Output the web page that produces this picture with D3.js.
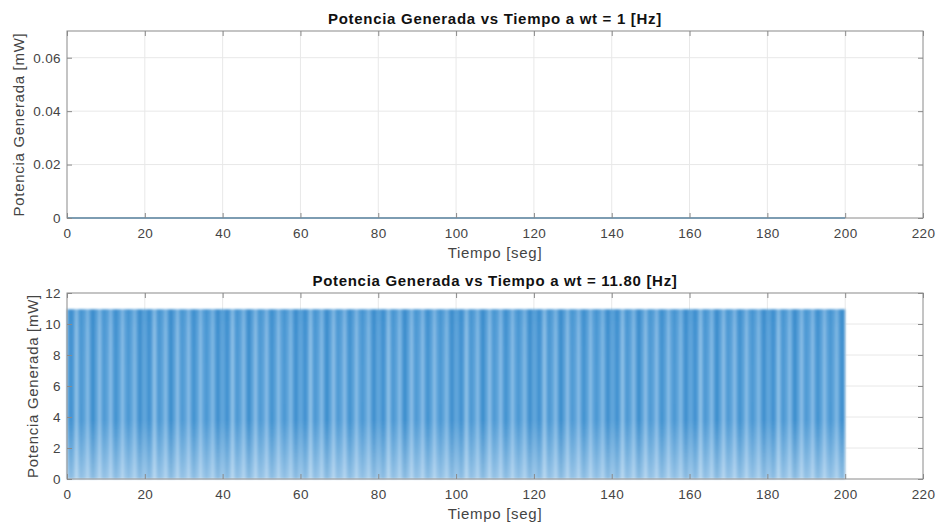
<!DOCTYPE html>
<html>
<head>
<meta charset="utf-8">
<script src="https://cdn.jsdelivr.net/npm/d3@7"></script>
<style>
  html, body { margin: 0; padding: 0; background: #fff; }
  svg { display: block; font-family: "Liberation Sans", Arial, sans-serif; }
</style>
</head>
<body>
<svg id="fig" width="938" height="532"></svg>
<script>
// ---- data ----
const xTicks = [0, 20, 40, 60, 80, 100, 120, 140, 160, 180, 200, 220];
const yTicksTop = [0, 0.02, 0.04, 0.06];
const yTicksBottom = [0, 2, 4, 6, 8, 10, 12];

// wt = 1 Hz: generated power stays at zero over the whole run
const tiempoA = [0, 200];
const potenciaA = [0, 0];

// wt = 11.80 Hz: fast oscillation, drawn as its min/max envelope
const tiempoB = [0, 200];
const potenciaBMax = [10.95, 10.95];
const potenciaBMin = [0, 0];

const titles = [
  "Potencia Generada vs Tiempo a wt = 1 [Hz]",
  "Potencia Generada vs Tiempo a wt = 11.80 [Hz]"
];
const xLabel = "Tiempo [seg]";
const yLabel = "Potencia Generada [mW]";

// ---- layout ----
const svg = d3.select("#fig");
const left = 67, right = 923;
const panels = [
  { top: 31, bottom: 218, yDomain: [0, 0.07], yTicks: yTicksTop, fmt: d => d === 0 ? "0" : d3.format(".2f")(d), yLabelX: 24 },
  { top: 293, bottom: 479, yDomain: [0, 12], yTicks: yTicksBottom, fmt: d => String(d), yLabelX: 38 }
];

const axisColor = "#8a8a8a";
const gridColor = "#e8e8e8";
const textColor = "#444";
const lineBlue = "#0072BD";

const defs = svg.append("defs");

// texture for the densely sampled oscillation (aliasing stripes)
const patW = 78;
const pat = defs.append("pattern")
  .attr("id", "stripes")
  .attr("patternUnits", "userSpaceOnUse")
  .attr("x", left).attr("y", 0)
  .attr("width", patW).attr("height", 532);
pat.append("rect").attr("width", patW).attr("height", 532).attr("fill", "#5ea4da");
const stripeSpec = [
  [2, 4, "#3a8dcd", 0.75], [8, 3, "#a9d0ef", 0.6], [13, 3, "#3f90cf", 0.6],
  [19, 3, "#9ec9ec", 0.55], [24, 4, "#3388ca", 0.7], [31, 3, "#b0d4f0", 0.5],
  [36, 3, "#4493d0", 0.6], [42, 3, "#a3ccee", 0.55], [47, 4, "#3a8dcd", 0.7],
  [54, 3, "#abd1ef", 0.5], [60, 3, "#3f90cf", 0.65], [66, 3, "#9ec9ec", 0.5],
  [71, 4, "#3689cb", 0.7]
];
stripeSpec.forEach(([x, w, c, o]) => {
  pat.append("rect").attr("x", x).attr("width", w).attr("height", 532)
    .attr("fill", c).attr("opacity", o);
});

// lighter near zero, a little darker near the peak
const grad = defs.append("linearGradient")
  .attr("id", "fade").attr("x1", 0).attr("y1", 0).attr("x2", 0).attr("y2", 1);
grad.append("stop").attr("offset", "0%").attr("stop-color", "#1f78c0").attr("stop-opacity", 0.12);
grad.append("stop").attr("offset", "12%").attr("stop-color", "#1f78c0").attr("stop-opacity", 0.03);
grad.append("stop").attr("offset", "65%").attr("stop-color", "#ffffff").attr("stop-opacity", 0.0);
grad.append("stop").attr("offset", "100%").attr("stop-color", "#ffffff").attr("stop-opacity", 0.4);

defs.append("filter").attr("id", "soft")
  .append("feGaussianBlur").attr("stdDeviation", 0.9);

const tickFont = "13.5px", labelFont = "15px";

panels.forEach((p, i) => {
  const x = d3.scaleLinear().domain([0, 220]).range([left, right]);
  const y = d3.scaleLinear().domain(p.yDomain).range([p.bottom, p.top]);
  const g = svg.append("g");

  // background
  g.append("rect").attr("x", left).attr("y", p.top)
    .attr("width", right - left).attr("height", p.bottom - p.top).attr("fill", "#fff");

  // grid
  g.append("g").selectAll("line").data(xTicks.slice(1, -1)).join("line")
    .attr("x1", d => x(d)).attr("x2", d => x(d))
    .attr("y1", p.top).attr("y2", p.bottom)
    .attr("stroke", gridColor).attr("stroke-width", 1);
  g.append("g").selectAll("line").data(p.yTicks.filter(d => d > p.yDomain[0] && d < p.yDomain[1])).join("line")
    .attr("x1", left).attr("x2", right)
    .attr("y1", d => y(d)).attr("y2", d => y(d))
    .attr("stroke", gridColor).attr("stroke-width", 1);

  // data
  if (i === 0) {
    const line = d3.line().x((d, k) => x(tiempoA[k])).y(d => y(d));
    g.append("path").datum(potenciaA).attr("d", line)
      .attr("fill", "none").attr("stroke", lineBlue).attr("stroke-width", 1.5).attr("opacity", 0.75);
  } else {
    const area = d3.area()
      .x((d, k) => x(tiempoB[k]))
      .y0((d, k) => y(potenciaBMin[k]))
      .y1(d => y(d));
    const band = g.append("g").attr("filter", "url(#soft)");
    band.append("path").datum(potenciaBMax).attr("d", area).attr("fill", "url(#stripes)");
    const x0 = x(tiempoB[0]), x1 = x(tiempoB[1]);
    const yTop = y(potenciaBMax[0]), yBot = y(potenciaBMin[0]);
    band.append("rect").attr("x", x0).attr("y", yTop)
      .attr("width", x1 - x0).attr("height", yBot - yTop).attr("fill", "url(#fade)");
  }

  // box
  g.append("rect").attr("x", left).attr("y", p.top)
    .attr("width", right - left).attr("height", p.bottom - p.top)
    .attr("fill", "none").attr("stroke", axisColor).attr("stroke-width", 1);

  // axes with inward ticks on all four sides
  const tl = 5;
  g.append("g").attr("transform", `translate(0,${p.bottom})`)
    .call(d3.axisBottom(x).tickValues(xTicks).tickSize(-tl).tickPadding(10).tickFormat(d3.format("d")))
    .call(a => a.select(".domain").remove());
  g.append("g").attr("transform", `translate(0,${p.top})`)
    .call(d3.axisTop(x).tickValues(xTicks).tickSize(-tl).tickFormat(""))
    .call(a => a.select(".domain").remove());
  g.append("g").attr("transform", `translate(${left},0)`)
    .call(d3.axisLeft(y).tickValues(p.yTicks).tickSize(-tl).tickPadding(6).tickFormat(p.fmt))
    .call(a => a.select(".domain").remove());
  g.append("g").attr("transform", `translate(${right},0)`)
    .call(d3.axisRight(y).tickValues(p.yTicks).tickSize(-tl).tickFormat(""))
    .call(a => a.select(".domain").remove());

  g.selectAll(".tick line").attr("stroke", axisColor);
  g.selectAll(".tick text").attr("fill", textColor)
    .style("font-family", "'Liberation Sans', Arial, sans-serif")
    .style("font-size", tickFont).style("letter-spacing", "0.4px");

  // labels
  g.append("text").attr("x", (left + right) / 2).attr("y", p.bottom + 40)
    .attr("text-anchor", "middle").attr("fill", textColor)
    .style("font-size", labelFont).style("letter-spacing", "0.7px").text(xLabel);
  g.append("text")
    .attr("transform", `translate(${p.yLabelX},${(p.top + p.bottom) / 2}) rotate(-90)`)
    .attr("text-anchor", "middle").attr("fill", textColor)
    .style("font-size", labelFont).style("letter-spacing", "0.7px").text(yLabel);
  g.append("text").attr("x", (left + right) / 2).attr("y", p.top - 7)
    .attr("text-anchor", "middle").attr("fill", "#111").style("font-size", "15px")
    .style("font-weight", "bold").style("letter-spacing", "0.7px").text(titles[i]);
});
</script>
</body>
</html>
